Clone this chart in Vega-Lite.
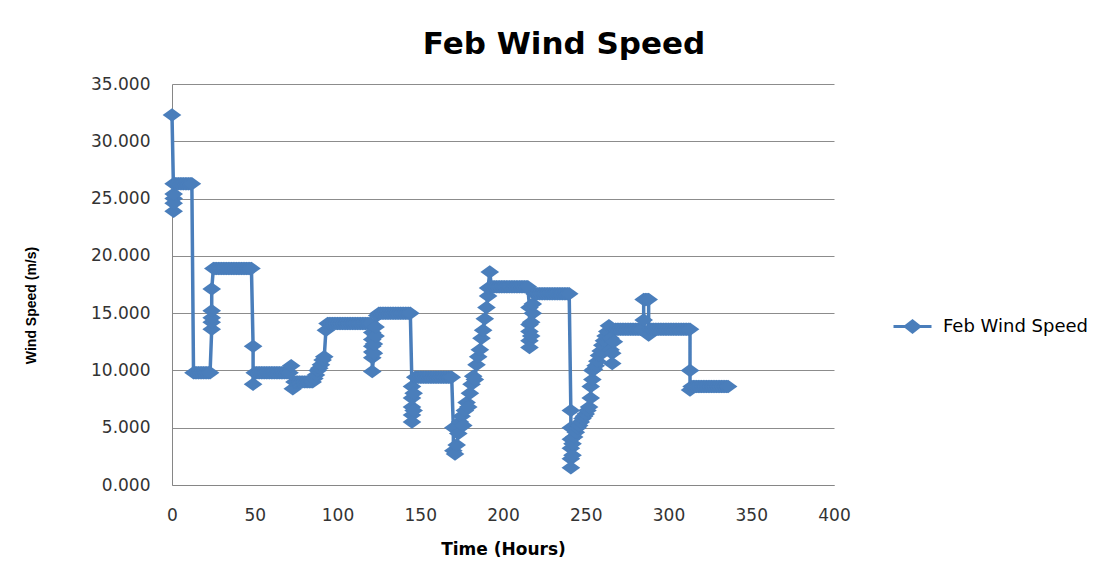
{
  "$schema": "https://vega.github.io/schema/vega-lite/v6.json",
  "width": 662,
  "height": 401,
  "autosize": {"type": "none"},
  "padding": {"left": 172, "top": 84, "right": 279, "bottom": 97},
  "background": "white",
  "title": {"text": "Feb Wind Speed", "font": "DejaVu Sans", "fontSize": 31, "fontWeight": "bold", "color": "#000000", "anchor": "middle", "frame": "group", "dx": 61, "baseline": "alphabetic", "offset": -10},
  "config": {
    "view": {"stroke": null},
    "axis": {"domainColor": "#868686", "domainWidth": 1, "ticks": false, "labelFont": "DejaVu Sans", "labelFontSize": 17, "labelColor": "#333333", "gridColor": "#8c8c8c", "gridWidth": 1}
  },
  "data": {"values": [
    {"hour":0,"speed":32.3},
    {"hour":1,"speed":25.0},{"hour":1,"speed":23.9},{"hour":1,"speed":24.6},{"hour":1,"speed":25.4},{"hour":1,"speed":26.3},
    {"hour":2,"speed":26.3},{"hour":3,"speed":26.3},{"hour":4,"speed":26.3},{"hour":5,"speed":26.3},{"hour":6,"speed":26.3},{"hour":7,"speed":26.3},{"hour":8,"speed":26.3},{"hour":9,"speed":26.3},{"hour":10,"speed":26.3},{"hour":11,"speed":26.3},{"hour":12,"speed":26.3},
    {"hour":13,"speed":9.8},{"hour":14,"speed":9.8},{"hour":15,"speed":9.8},{"hour":16,"speed":9.8},{"hour":17,"speed":9.8},{"hour":18,"speed":9.8},{"hour":19,"speed":9.8},{"hour":20,"speed":9.8},{"hour":21,"speed":9.8},{"hour":22,"speed":9.8},{"hour":23,"speed":9.8},
    {"hour":24,"speed":13.6},{"hour":24,"speed":14.2},{"hour":24,"speed":14.6},{"hour":24,"speed":15.2},{"hour":24,"speed":17.1},
    {"hour":25,"speed":18.9},{"hour":26,"speed":18.9},{"hour":27,"speed":18.9},{"hour":28,"speed":18.9},{"hour":29,"speed":18.9},{"hour":30,"speed":18.9},{"hour":31,"speed":18.9},{"hour":32,"speed":18.9},{"hour":33,"speed":18.9},{"hour":34,"speed":18.9},{"hour":35,"speed":18.9},{"hour":36,"speed":18.9},{"hour":37,"speed":18.9},{"hour":38,"speed":18.9},{"hour":39,"speed":18.9},{"hour":40,"speed":18.9},{"hour":41,"speed":18.9},{"hour":42,"speed":18.9},{"hour":43,"speed":18.9},{"hour":44,"speed":18.9},{"hour":45,"speed":18.9},{"hour":46,"speed":18.9},{"hour":47,"speed":18.9},{"hour":48,"speed":18.9},
    {"hour":49,"speed":12.1},{"hour":49,"speed":8.8},
    {"hour":50,"speed":9.8},{"hour":51,"speed":9.8},{"hour":52,"speed":9.8},{"hour":53,"speed":9.8},{"hour":54,"speed":9.8},{"hour":55,"speed":9.8},{"hour":56,"speed":9.8},{"hour":57,"speed":9.8},{"hour":58,"speed":9.8},{"hour":59,"speed":9.8},{"hour":60,"speed":9.8},{"hour":61,"speed":9.8},{"hour":62,"speed":9.8},{"hour":63,"speed":9.8},{"hour":64,"speed":9.8},{"hour":65,"speed":9.8},{"hour":66,"speed":9.8},{"hour":67,"speed":9.8},{"hour":68,"speed":9.8},{"hour":69,"speed":9.8},{"hour":70,"speed":9.8},{"hour":71,"speed":9.8},
    {"hour":72,"speed":10.4},{"hour":73,"speed":8.4},
    {"hour":74,"speed":9.0},{"hour":75,"speed":9.0},{"hour":76,"speed":9.0},{"hour":77,"speed":9.0},{"hour":78,"speed":9.0},{"hour":79,"speed":9.0},{"hour":80,"speed":9.0},{"hour":81,"speed":9.0},{"hour":82,"speed":9.0},{"hour":83,"speed":9.0},{"hour":84,"speed":9.0},{"hour":85,"speed":9.0},
    {"hour":86,"speed":9.3},{"hour":87,"speed":9.6},{"hour":88,"speed":10.0},{"hour":89,"speed":10.2},{"hour":90,"speed":10.5},{"hour":91,"speed":10.9},{"hour":92,"speed":11.2},{"hour":93,"speed":13.5},
    {"hour":94,"speed":14.1},{"hour":95,"speed":14.1},{"hour":96,"speed":14.1},{"hour":97,"speed":14.1},{"hour":98,"speed":14.1},{"hour":99,"speed":14.1},{"hour":100,"speed":14.1},{"hour":101,"speed":14.1},{"hour":102,"speed":14.1},{"hour":103,"speed":14.1},{"hour":104,"speed":14.1},{"hour":105,"speed":14.1},{"hour":106,"speed":14.1},{"hour":107,"speed":14.1},{"hour":108,"speed":14.1},{"hour":109,"speed":14.1},{"hour":110,"speed":14.1},{"hour":111,"speed":14.1},{"hour":112,"speed":14.1},{"hour":113,"speed":14.1},{"hour":114,"speed":14.1},{"hour":115,"speed":14.1},{"hour":116,"speed":14.1},{"hour":117,"speed":14.1},{"hour":118,"speed":14.1},{"hour":119,"speed":14.1},{"hour":120,"speed":14.1},
    {"hour":121,"speed":13.3},{"hour":121,"speed":12.7},{"hour":121,"speed":12.1},{"hour":121,"speed":11.6},{"hour":121,"speed":11.1},{"hour":121,"speed":9.9},{"hour":122,"speed":11.5},{"hour":122,"speed":12.3},{"hour":123,"speed":13.0},{"hour":123,"speed":13.8},{"hour":124,"speed":14.8},
    {"hour":125,"speed":15.0},{"hour":126,"speed":15.0},{"hour":127,"speed":15.0},{"hour":128,"speed":15.0},{"hour":129,"speed":15.0},{"hour":130,"speed":15.0},{"hour":131,"speed":15.0},{"hour":132,"speed":15.0},{"hour":133,"speed":15.0},{"hour":134,"speed":15.0},{"hour":135,"speed":15.0},{"hour":136,"speed":15.0},{"hour":137,"speed":15.0},{"hour":138,"speed":15.0},{"hour":139,"speed":15.0},{"hour":140,"speed":15.0},{"hour":141,"speed":15.0},{"hour":142,"speed":15.0},{"hour":143,"speed":15.0},{"hour":144,"speed":15.0},
    {"hour":145,"speed":8.6},{"hour":145,"speed":7.6},{"hour":145,"speed":6.8},{"hour":145,"speed":6.1},{"hour":145,"speed":5.5},{"hour":146,"speed":6.5},{"hour":146,"speed":8.0},
    {"hour":147,"speed":9.4},{"hour":148,"speed":9.4},{"hour":149,"speed":9.4},{"hour":150,"speed":9.4},{"hour":151,"speed":9.4},{"hour":152,"speed":9.4},{"hour":153,"speed":9.4},{"hour":154,"speed":9.4},{"hour":155,"speed":9.4},{"hour":156,"speed":9.4},{"hour":157,"speed":9.4},{"hour":158,"speed":9.4},{"hour":159,"speed":9.4},{"hour":160,"speed":9.4},{"hour":161,"speed":9.4},{"hour":162,"speed":9.4},{"hour":163,"speed":9.4},{"hour":164,"speed":9.4},{"hour":165,"speed":9.4},{"hour":166,"speed":9.4},{"hour":167,"speed":9.4},{"hour":168,"speed":9.4},{"hour":169,"speed":9.4},
    {"hour":170,"speed":5.0},{"hour":170,"speed":3.0},{"hour":171,"speed":2.7},{"hour":172,"speed":3.5},{"hour":173,"speed":4.5},{"hour":174,"speed":5.5},{"hour":175,"speed":6.0},{"hour":176,"speed":5.2},{"hour":177,"speed":6.5},{"hour":178,"speed":7.2},{"hour":179,"speed":6.8},{"hour":180,"speed":8.0},{"hour":181,"speed":8.8},{"hour":182,"speed":9.5},{"hour":183,"speed":9.2},{"hour":184,"speed":10.5},{"hour":185,"speed":11.2},{"hour":186,"speed":11.8},{"hour":187,"speed":12.8},{"hour":188,"speed":13.5},{"hour":189,"speed":14.5},{"hour":190,"speed":15.5},{"hour":191,"speed":16.5},{"hour":191,"speed":17.2},{"hour":192,"speed":18.6},
    {"hour":193,"speed":17.3},{"hour":194,"speed":17.3},{"hour":195,"speed":17.3},{"hour":196,"speed":17.3},{"hour":197,"speed":17.3},{"hour":198,"speed":17.3},{"hour":199,"speed":17.3},{"hour":200,"speed":17.3},{"hour":201,"speed":17.3},{"hour":202,"speed":17.3},{"hour":203,"speed":17.3},{"hour":204,"speed":17.3},{"hour":205,"speed":17.3},{"hour":206,"speed":17.3},{"hour":207,"speed":17.3},{"hour":208,"speed":17.3},{"hour":209,"speed":17.3},{"hour":210,"speed":17.3},{"hour":211,"speed":17.3},{"hour":212,"speed":17.3},{"hour":213,"speed":17.3},{"hour":214,"speed":17.3},{"hour":215,"speed":17.3},
    {"hour":216,"speed":15.5},{"hour":216,"speed":14.0},{"hour":216,"speed":13.4},{"hour":216,"speed":12.6},{"hour":216,"speed":12.0},{"hour":217,"speed":13.0},{"hour":217,"speed":14.2},{"hour":218,"speed":15.0},{"hour":218,"speed":15.8},
    {"hour":219,"speed":16.7},{"hour":220,"speed":16.7},{"hour":221,"speed":16.7},{"hour":222,"speed":16.7},{"hour":223,"speed":16.7},{"hour":224,"speed":16.7},{"hour":225,"speed":16.7},{"hour":226,"speed":16.7},{"hour":227,"speed":16.7},{"hour":228,"speed":16.7},{"hour":229,"speed":16.7},{"hour":230,"speed":16.7},{"hour":231,"speed":16.7},{"hour":232,"speed":16.7},{"hour":233,"speed":16.7},{"hour":234,"speed":16.7},{"hour":235,"speed":16.7},{"hour":236,"speed":16.7},{"hour":237,"speed":16.7},{"hour":238,"speed":16.7},{"hour":239,"speed":16.7},{"hour":240,"speed":16.7},
    {"hour":241,"speed":6.5},{"hour":241,"speed":5.0},{"hour":241,"speed":4.0},{"hour":241,"speed":3.2},{"hour":241,"speed":2.3},{"hour":241,"speed":1.5},{"hour":242,"speed":2.6},{"hour":242,"speed":3.6},{"hour":243,"speed":4.2},{"hour":244,"speed":4.6},{"hour":245,"speed":5.0},{"hour":246,"speed":5.2},{"hour":247,"speed":5.5},{"hour":248,"speed":5.8},{"hour":249,"speed":6.0},{"hour":250,"speed":6.2},{"hour":251,"speed":6.5},{"hour":252,"speed":6.8},{"hour":253,"speed":7.6},{"hour":253,"speed":8.6},{"hour":254,"speed":9.2},{"hour":254,"speed":10.0},{"hour":255,"speed":10.1},{"hour":256,"speed":10.4},{"hour":257,"speed":10.8},{"hour":258,"speed":11.3},{"hour":259,"speed":11.7},{"hour":260,"speed":12.2},{"hour":261,"speed":12.6},{"hour":262,"speed":13.0},{"hour":263,"speed":13.4},{"hour":264,"speed":13.9},{"hour":265,"speed":12.8},{"hour":265,"speed":11.8},{"hour":266,"speed":10.6},{"hour":266,"speed":11.5},{"hour":267,"speed":12.5},
    {"hour":268,"speed":13.6},{"hour":269,"speed":13.6},{"hour":270,"speed":13.6},{"hour":271,"speed":13.6},{"hour":272,"speed":13.6},{"hour":273,"speed":13.6},{"hour":274,"speed":13.6},{"hour":275,"speed":13.6},{"hour":276,"speed":13.6},{"hour":277,"speed":13.6},{"hour":278,"speed":13.6},{"hour":279,"speed":13.6},{"hour":280,"speed":13.6},{"hour":281,"speed":13.6},{"hour":282,"speed":13.6},{"hour":283,"speed":13.6},{"hour":284,"speed":13.6},
    {"hour":285,"speed":14.4},{"hour":285,"speed":16.2},{"hour":286,"speed":16.2},{"hour":287,"speed":16.2},{"hour":288,"speed":16.2},{"hour":288,"speed":13.1},
    {"hour":289,"speed":13.6},{"hour":290,"speed":13.6},{"hour":291,"speed":13.6},{"hour":292,"speed":13.6},{"hour":293,"speed":13.6},{"hour":294,"speed":13.6},{"hour":295,"speed":13.6},{"hour":296,"speed":13.6},{"hour":297,"speed":13.6},{"hour":298,"speed":13.6},{"hour":299,"speed":13.6},{"hour":300,"speed":13.6},{"hour":301,"speed":13.6},{"hour":302,"speed":13.6},{"hour":303,"speed":13.6},{"hour":304,"speed":13.6},{"hour":305,"speed":13.6},{"hour":306,"speed":13.6},{"hour":307,"speed":13.6},{"hour":308,"speed":13.6},{"hour":309,"speed":13.6},{"hour":310,"speed":13.6},{"hour":311,"speed":13.6},{"hour":312,"speed":13.6},{"hour":313,"speed":13.6},
    {"hour":313,"speed":10.0},{"hour":313,"speed":8.3},
    {"hour":314,"speed":8.6},{"hour":315,"speed":8.6},{"hour":316,"speed":8.6},{"hour":317,"speed":8.6},{"hour":318,"speed":8.6},{"hour":319,"speed":8.6},{"hour":320,"speed":8.6},{"hour":321,"speed":8.6},{"hour":322,"speed":8.6},{"hour":323,"speed":8.6},{"hour":324,"speed":8.6},{"hour":325,"speed":8.6},{"hour":326,"speed":8.6},{"hour":327,"speed":8.6},{"hour":328,"speed":8.6},{"hour":329,"speed":8.6},{"hour":330,"speed":8.6},{"hour":331,"speed":8.6},{"hour":332,"speed":8.6},{"hour":333,"speed":8.6},{"hour":334,"speed":8.6},{"hour":335,"speed":8.6},{"hour":336,"speed":8.6}
  ]},
  "encoding": {
    "x": {"field": "hour", "type": "quantitative", "scale": {"domain": [0, 400], "nice": false, "zero": false},
      "axis": {"values": [0, 50, 100, 150, 200, 250, 300, 350, 400], "grid": false, "title": "Time (Hours)", "titleFont": "DejaVu Sans", "titleFontSize": 17, "titleFontWeight": "bold", "titleColor": "#000000", "labelPadding": 22, "titlePadding": 18, "labelFlush": false}},
    "y": {"field": "speed", "type": "quantitative", "scale": {"domain": [0, 35], "nice": false},
      "axis": {"values": [0, 5, 10, 15, 20, 25, 30, 35], "format": ".3f", "grid": true, "title": "Wind Speed (m/s)", "titleFont": "Liberation Sans", "titleFontSize": 14, "titleFontWeight": "bold", "titleColor": "#000000", "labelPadding": 22, "titlePadding": 52, "titleY": 221}},
    "color": {"datum": "Feb Wind Speed", "type": "nominal", "scale": {"range": ["#4a7ebb"]},
      "legend": {"orient": "none", "legendX": 720, "legendY": 222, "title": null, "padding": 0, "symbolType": "M-1,0L1,0M-0.37,0L0,-0.29L0.37,0L0,0.29Z", "symbolSize": 1444, "symbolStrokeWidth": 3, "symbolFillColor": "#4a7ebb", "symbolStrokeColor": "#4a7ebb", "symbolOpacity": 1, "labelFont": "DejaVu Sans", "labelFontSize": 18, "labelColor": "#000000", "labelOffset": 10}}
  },
  "layer": [
    {"mark": {"type": "line", "strokeWidth": 3.5}, "encoding": {"order": {"value": null}}},
    {"mark": {"type": "point", "filled": true, "opacity": 1, "shape": "M-1,0L0,-0.72L1,0L0,0.72Z", "size": 350}}
  ]
}
